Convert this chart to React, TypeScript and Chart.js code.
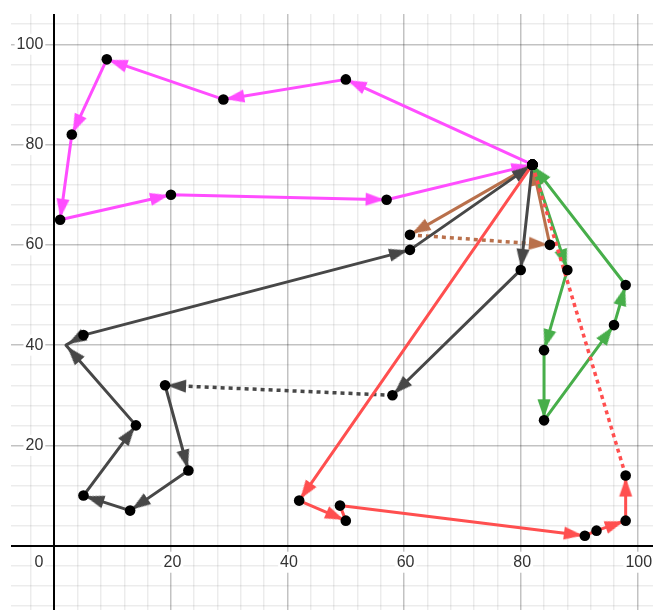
import React, { useEffect, useRef } from 'react';
import { Chart, registerables } from 'chart.js';

Chart.register(...registerables);

// ---- axis ranges (data units) ----
const xRange = [-7.43, 102.69];
const yRange = [-12.82, 106.04];

// grid lines every 4 units, labels every 20
const xGridValues = [-4, 0, 4, 8, 12, 16, 20, 24, 28, 32, 36, 40, 44, 48, 52, 56, 60, 64, 68, 72, 76, 80, 84, 88, 92, 96, 100];
const yGridValues = [-12, -8, -4, 0, 4, 8, 12, 16, 20, 24, 28, 32, 36, 40, 44, 48, 52, 56, 60, 64, 68, 72, 76, 80, 84, 88, 92, 96, 100, 104];
const xLabelValues = [20, 40, 60, 80, 100];
const yLabelValues = [20, 40, 60, 80, 100];
const originLabel = '0';

// ---- series: vertices, arrows per segment (1 = at end, -1 = at start, 0 = none), dotted segments ----
const pinkX = [82, 50, 29, 9, 3, 1, 20, 57, 82];
const pinkY = [76, 93, 89, 97, 82, 65, 70, 69, 76];
const pinkArrows = [1, 1, 1, 1, 1, 1, 1, 1];
const pinkDotted: number[] = [];

const brownX = [82, 61, 85, 82];
const brownY = [76, 62, 60, 76];
const brownArrows = [1, 1, 1];
const brownDotted = [1];

const grayX = [82, 80, 58, 19, 23, 13, 5, 14, 2, 5, 61, 82];
const grayY = [76, 55, 30, 32, 15, 7, 10, 24, 40, 42, 59, 76];
const grayArrows = [1, 1, 1, 1, 1, 1, 1, 1, -1, 1, 1];
const grayDotted = [2];
const grayHiddenDots = [8];

const greenX = [82, 88, 84, 84, 96, 98, 82];
const greenY = [76, 55, 39, 25, 44, 52, 76];
const greenArrows = [1, 1, 1, 1, 1, 1];
const greenDotted: number[] = [];

const redX = [82, 42, 50, 49, 91, 93, 98, 98, 82];
const redY = [76, 9, 5, 8, 2, 3, 5, 14, 76];
const redArrows = [1, 1, 0, 1, 0, 1, 1, 0];
const redDotted = [7];

const pinkColor = '#ff4dff';
const brownColor = '#b9704b';
const grayColor = '#474747';
const greenColor = '#47ae4a';
const redColor = '#ff4f4f';

// page geometry
const AREA_LEFT = 11, AREA_TOP = 14, AREA_W = 642, AREA_H = 596, PAD = 30;

const FONT = { family: '"Liberation Sans", Arial, Helvetica, sans-serif', size: 16, lineHeight: '17px' };

function makeArrow(color: string) {
  const S = 52;
  const c = document.createElement('canvas');
  c.width = S; c.height = S;
  const g = c.getContext('2d')!;
  const cx = S / 2, cy = S / 2;
  const tip = 2, L = 19, W = 13;
  g.fillStyle = color;
  g.beginPath();
  g.moveTo(cx, cy + tip);
  g.lineTo(cx - W / 2, cy + tip + L);
  g.lineTo(cx + W / 2, cy + tip + L);
  g.closePath();
  g.fill();
  return c;
}

function arrowPoints(xs: number[], ys: number[], arrows: number[]) {
  const pts: any[] = [];
  arrows.forEach((a, i) => {
    if (a === 1) pts.push({ x: xs[i + 1], y: ys[i + 1], fx: xs[i], fy: ys[i] });
    else if (a === -1) pts.push({ x: xs[i], y: ys[i], fx: xs[i + 1], fy: ys[i + 1] });
  });
  return pts;
}

function gridColor(ctx: any) {
  const v = ctx.tick ? ctx.tick.value : 1;
  if (v === 0) return '#000';
  if (v % 20 === 0) return 'rgba(0,0,0,0.24)';
  return 'rgba(0,0,0,0.075)';
}
function gridWidth(ctx: any) {
  const v = ctx.tick ? ctx.tick.value : 1;
  if (v === 0) return 2;
  return 1.5;
}

export default function App() {
  const ref = useRef<HTMLCanvasElement>(null);

  useEffect(() => {
    const canvas = ref.current!;
    const series = [
      { xs: pinkX, ys: pinkY, arrows: pinkArrows, dotted: pinkDotted, hidden: [] as number[], color: pinkColor },
      { xs: brownX, ys: brownY, arrows: brownArrows, dotted: brownDotted, hidden: [] as number[], color: brownColor },
      { xs: grayX, ys: grayY, arrows: grayArrows, dotted: grayDotted, hidden: grayHiddenDots, color: grayColor },
      { xs: greenX, ys: greenY, arrows: greenArrows, dotted: greenDotted, hidden: [] as number[], color: greenColor },
      { xs: redX, ys: redY, arrows: redArrows, dotted: redDotted, hidden: [] as number[], color: redColor },
    ];

    const rotation = (ctx: any) => {
      const r = ctx.raw;
      if (!r || r.fx === undefined) return 0;
      const xs = ctx.chart.scales.x, ys = ctx.chart.scales.y;
      const dx = xs.getPixelForValue(r.x) - xs.getPixelForValue(r.fx);
      const dy = ys.getPixelForValue(r.y) - ys.getPixelForValue(r.fy);
      return (Math.atan2(dx, -dy) * 180) / Math.PI;
    };

    const datasets: any[] = [];
    const dots: any[] = [];
    series.forEach((s, k) => {
      datasets.push({
        type: 'line',
        data: s.xs.map((x, i) => ({ x, y: s.ys[i] })),
        borderColor: s.color,
        borderWidth: 3,
        pointRadius: 0,
        tension: 0,
        fill: false,
        borderJoinStyle: 'round',
        borderCapStyle: 'butt',
        segment: {
          borderDash: (c: any) => (s.dotted.includes(c.p0DataIndex) ? [4, 4] : undefined),
          borderWidth: (c: any) => (s.dotted.includes(c.p0DataIndex) ? 3.5 : undefined),
        },
        order: 100 - k * 2,
      });
      datasets.push({
        type: 'line',
        data: arrowPoints(s.xs, s.ys, s.arrows),
        showLine: false,
        pointStyle: makeArrow(s.color),
        pointRadius: 8,
        rotation,
        order: 99 - k * 2,
      });
      s.xs.forEach((x, i) => {
        if (!s.hidden.includes(i)) dots.push({ x, y: s.ys[i] });
      });
    });
    datasets.push({
      type: 'line',
      data: dots,
      showLine: false,
      pointRadius: 5.3,
      pointBackgroundColor: '#000',
      pointBorderWidth: 0,
      order: 0,
    });

    const chart = new Chart(canvas, {
      type: 'line',
      data: { datasets },
      options: {
        animation: false,
        responsive: false,
        events: [],
        layout: { padding: PAD },
        plugins: { legend: { display: false }, tooltip: { enabled: false } },
        scales: {
          x: {
            type: 'linear',
            min: xRange[0],
            max: xRange[1],
            position: { y: 0 } as any,
            afterBuildTicks: (scale: any) => {
              scale.ticks = xGridValues.map((value) => ({ value }));
            },
            grid: { color: gridColor, lineWidth: gridWidth, drawTicks: false },
            border: { display: false },
            ticks: {
              autoSkip: false,
              maxRotation: 0,
              minRotation: 0,
              padding: 8,
              labelOffset: 1.5,
              font: FONT,
              color: '#333',
              showLabelBackdrop: true,
              backdropPadding: 2,
              backdropColor: (c: any) => (c.tick && xLabelValues.includes(c.tick.value) ? '#fff' : 'rgba(0,0,0,0)'),
              callback: (v: any) => (xLabelValues.includes(Number(v)) ? String(v) : ''),
            },
          },
          x0: {
            type: 'linear',
            axis: 'x',
            min: xRange[0],
            max: xRange[1],
            position: { y: 0 } as any,
            afterBuildTicks: (scale: any) => {
              scale.ticks = [{ value: 0 }];
            },
            grid: { display: false, drawTicks: false },
            border: { display: false },
            ticks: {
              autoSkip: false,
              maxRotation: 0,
              minRotation: 0,
              align: 'end',
              padding: 8,
              labelOffset: -11,
              font: FONT,
              color: '#333',
              showLabelBackdrop: true,
              backdropPadding: 2,
              backdropColor: '#fff',
              callback: () => originLabel,
            },
          },
          y: {
            type: 'linear',
            min: yRange[0],
            max: yRange[1],
            position: { x: -1.89 } as any,
            afterBuildTicks: (scale: any) => {
              scale.ticks = yGridValues.map((value) => ({ value }));
            },
            grid: { color: gridColor, lineWidth: gridWidth, drawTicks: false },
            border: { display: false },
            ticks: {
              autoSkip: false,
              padding: 0,
              font: FONT,
              color: '#333',
              showLabelBackdrop: true,
              backdropPadding: 2,
              backdropColor: (c: any) => (c.tick && yLabelValues.includes(c.tick.value) ? '#fff' : 'rgba(0,0,0,0)'),
              callback: (v: any) => (yLabelValues.includes(Number(v)) ? String(v) : ''),
            },
          },
        },
      } as any,
    });
    return () => chart.destroy();
  }, []);

  return (
    <div style={{ position: 'fixed', left: 0, top: 0, width: '100vw', height: '100vh', overflow: 'hidden', background: '#fff' }}>
      <canvas
        ref={ref}
        width={AREA_W + 2 * PAD}
        height={AREA_H + 2 * PAD}
        style={{ position: 'absolute', left: AREA_LEFT - PAD, top: AREA_TOP - PAD }}
      />
    </div>
  );
}
